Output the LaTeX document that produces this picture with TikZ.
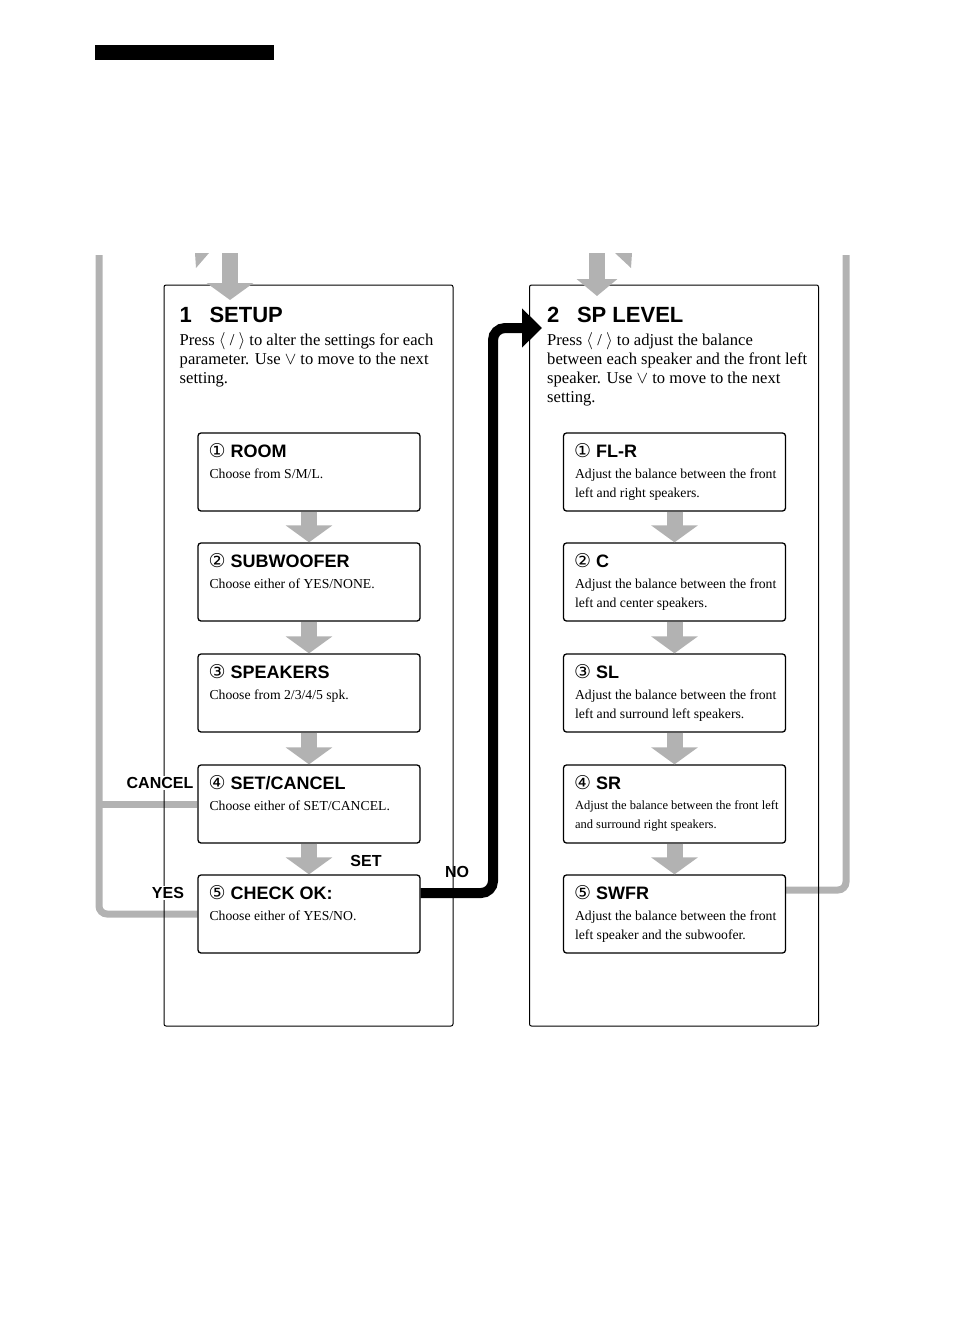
\documentclass[tikz,border=0pt]{standalone}
\usepackage{fontspec}
\setmainfont{Liberation Serif}
\setsansfont{Liberation Sans}
\newfontfamily\circfont{DejaVu Sans}
\usetikzlibrary{arrows.meta}

\begin{document}
\begin{tikzpicture}[x=1pt, y=1pt,
    panel/.style={draw, line width=1pt, rounded corners=2pt, minimum width=289pt, minimum height=741pt},
    stepbox/.style={draw, fill=white, line width=1.3pt, rounded corners=3pt, minimum width=222pt, minimum height=78pt},
    paneltitle/.style={anchor=base west, inner sep=0pt, font=\sffamily\bfseries\fontsize{22}{26}\selectfont},
    paneltext/.style={anchor=north west, inner sep=0pt, align=left, font=\fontsize{16.6}{19}\selectfont},
    boxtitle/.style={anchor=base west, inner sep=0pt, font=\sffamily\bfseries\fontsize{18}{22}\selectfont},
    boxtext/.style={anchor=north west, inner sep=0pt, align=left, font=\fontsize{13.7}{19}\selectfont},
    flowlabel/.style={fill=white, inner sep=1pt, font=\sffamily\bfseries\fontsize{16}{18}\selectfont},
    grayflow/.style={line width=16pt, draw=black!30, -{Triangle[width=46pt, length=17pt]}},
    grayline/.style={line width=7pt, draw=black!30, rounded corners=8pt},
  ]
  \useasboundingbox (0,0) rectangle (954,-1341);
  \fill (95,-45) rectangle (274,-60);

  % incoming and outgoing gray lines
  \coordinate (leftin) at (99,-255);
  \coordinate (rightin) at (846,-255);
  \node[stepbox, draw=none, fill=none] (chkpos) at (309,-914) {};
  \node[stepbox, draw=none, fill=none] (setcpos) at (309,-804) {};
  \node[stepbox, draw=none, fill=none] (swfrpos) at (674.5,-914) {};
  \draw[grayline] (leftin) -- (leftin |- chkpos.west) -- (chkpos.west);
  \draw[grayline, rounded corners=0pt] (leftin |- setcpos.west) -- (setcpos.west);
  \coordinate (swfrout) at ([yshift=24pt]swfrpos.east);
  \draw[grayline] (rightin) -- (rightin |- swfrout) -- (swfrout);

  % panels
  \node[panel] (setup) at (308.5,-655.5) {};
  \node[panel] (splevel) at (674,-655.5) {};
  \node[paneltitle] (setup-t) at ([shift={(16pt,-38pt)}]setup.north west) {1\hspace{0.8em}SETUP};
  \node[paneltext] (setup-d) at ([shift={(16pt,-48pt)}]setup.north west)
    {Press $\langle$ / $\rangle$ to alter the settings for each\\parameter. Use $\vee$ to move to the next\\setting.};
  \node[paneltitle] (splevel-t) at ([shift={(18pt,-38pt)}]splevel.north west) {2\hspace{0.8em}SP LEVEL};
  \node[paneltext] (splevel-d) at ([shift={(18pt,-48pt)}]splevel.north west)
    {Press $\langle$ / $\rangle$ to adjust the balance\\between each speaker and the front left\\speaker. Use $\vee$ to move to the next\\setting.};

  % top arrows
  \coordinate (setupin) at (230,-253);
  \coordinate (setuptip) at (230,-300);
  \coordinate (splevelin) at (597,-253);
  \coordinate (spleveltip) at (597,-296);
  \draw[grayflow] (setupin) -- (setuptip);
  \draw[grayflow, -{Triangle[width=40pt, length=17pt]}] (splevelin) -- (spleveltip);
  \fill[black!30] (195,-253) -- (209,-253) -- (196,-268) -- cycle;
  \fill[black!30] (615,-253) -- (632,-253) -- (631,-268) -- cycle;

  % setup steps
  \node[stepbox] (room) at (309,-472) {};
  \node[stepbox] (subw) at (309,-582) {};
  \node[stepbox] (spk) at (309,-693) {};
  \node[stepbox] (setc) at (309,-804) {};
  \node[stepbox] (chk) at (309,-914) {};
  \node[boxtitle] at ([shift={(11pt,-25pt)}]room.north west) {{\circfont\mdseries\fontsize{19}{19}\selectfont ①} ROOM};
  \node[boxtext] at ([shift={(12pt,-36pt)}]room.north west) {Choose from S/M/L.};
  \node[boxtitle] at ([shift={(11pt,-25pt)}]subw.north west) {{\circfont\mdseries\fontsize{19}{19}\selectfont ②} SUBWOOFER};
  \node[boxtext] at ([shift={(12pt,-36pt)}]subw.north west) {Choose either of YES/NONE.};
  \node[boxtitle] at ([shift={(11pt,-25pt)}]spk.north west) {{\circfont\mdseries\fontsize{19}{19}\selectfont ③} SPEAKERS};
  \node[boxtext] at ([shift={(12pt,-36pt)}]spk.north west) {Choose from 2/3/4/5 spk.};
  \node[boxtitle] at ([shift={(11pt,-25pt)}]setc.north west) {{\circfont\mdseries\fontsize{19}{19}\selectfont ④} SET/CANCEL};
  \node[boxtext] at ([shift={(12pt,-36pt)}]setc.north west) {Choose either of SET/CANCEL.};
  \node[boxtitle] at ([shift={(11pt,-25pt)}]chk.north west) {{\circfont\mdseries\fontsize{19}{19}\selectfont ⑤} CHECK OK:};
  \node[boxtext] at ([shift={(12pt,-36pt)}]chk.north west) {Choose either of YES/NO.};
  \draw[grayflow] (room) -- (subw);
  \draw[grayflow] (subw) -- (spk);
  \draw[grayflow] (spk) -- (setc);
  \draw[grayflow] (setc) -- (chk);

  % sp level steps
  \node[stepbox] (flr) at (674.5,-472) {};
  \node[stepbox] (cen) at (674.5,-582) {};
  \node[stepbox] (sl) at (674.5,-693) {};
  \node[stepbox] (sr) at (674.5,-804) {};
  \node[stepbox] (swfr) at (674.5,-914) {};
  \node[boxtitle] at ([shift={(11pt,-25pt)}]flr.north west) {{\circfont\mdseries\fontsize{19}{19}\selectfont ①} FL-R};
  \node[boxtext] at ([shift={(12pt,-36pt)}]flr.north west) {Adjust the balance between the front\\left and right speakers.};
  \node[boxtitle] at ([shift={(11pt,-25pt)}]cen.north west) {{\circfont\mdseries\fontsize{19}{19}\selectfont ②} C};
  \node[boxtext] at ([shift={(12pt,-36pt)}]cen.north west) {Adjust the balance between the front\\left and center speakers.};
  \node[boxtitle] at ([shift={(11pt,-25pt)}]sl.north west) {{\circfont\mdseries\fontsize{19}{19}\selectfont ③} SL};
  \node[boxtext] at ([shift={(12pt,-36pt)}]sl.north west) {Adjust the balance between the front\\left and surround left speakers.};
  \node[boxtitle] at ([shift={(11pt,-25pt)}]sr.north west) {{\circfont\mdseries\fontsize{19}{19}\selectfont ④} SR};
  \node[boxtext, font=\fontsize{12.5}{19}\selectfont] at ([shift={(12pt,-36pt)}]sr.north west) {Adjust the balance between the front left\\and surround right speakers.};
  \node[boxtitle] at ([shift={(11pt,-25pt)}]swfr.north west) {{\circfont\mdseries\fontsize{19}{19}\selectfont ⑤} SWFR};
  \node[boxtext] at ([shift={(12pt,-36pt)}]swfr.north west) {Adjust the balance between the front\\left speaker and the subwoofer.};
  \draw[grayflow] (flr) -- (cen);
  \draw[grayflow] (cen) -- (sl);
  \draw[grayflow] (sl) -- (sr);
  \draw[grayflow] (sr) -- (swfr);

  % NO branch
  \coordinate (notip) at (542,-328);
  \draw[line width=10pt, rounded corners=12pt, -{Triangle[width=38pt, length=20pt]}]
    ([yshift=21pt]chk.east) -- (493,-893) -- (493,-328) -- (notip);

  % labels
  \node[flowlabel] (cancel-l) at (160,-783) {CANCEL};
  \node[flowlabel] (yes-l) at (168,-893) {YES};
  \node[flowlabel, fill=none] (set-l) at (366,-861) {SET};
  \node[flowlabel, fill=none] (no-l) at (457,-872) {NO};
\end{tikzpicture}
\end{document}
